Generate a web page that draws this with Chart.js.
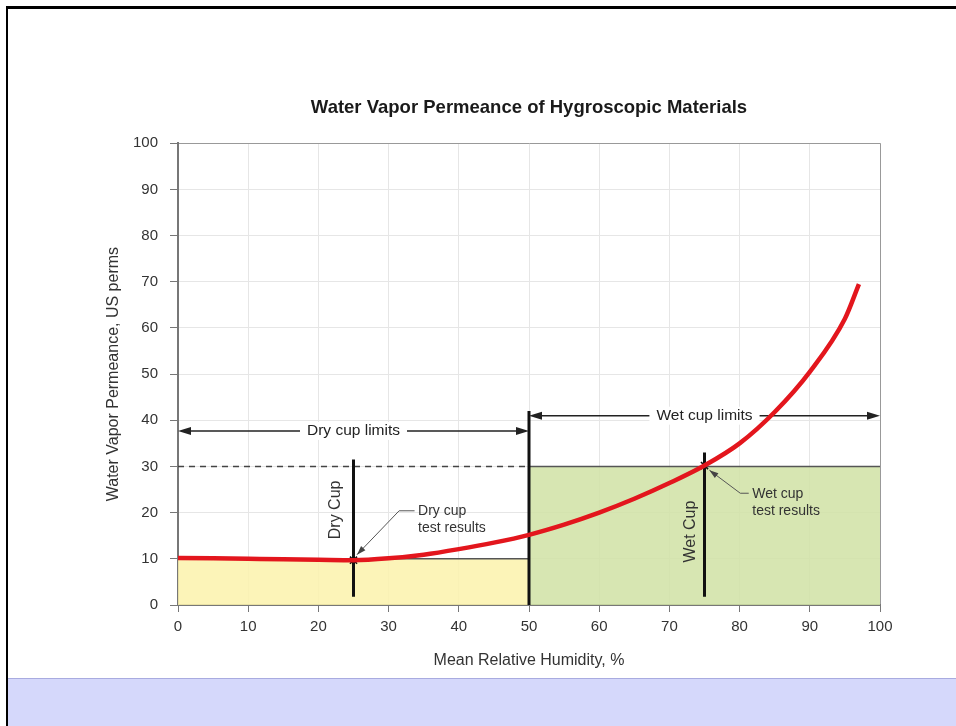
<!DOCTYPE html>
<html>
<head>
<meta charset="utf-8">
<script src="https://cdn.jsdelivr.net/npm/chart.js@4.4.1/dist/chart.umd.min.js"></script>
<style>
    html, body { margin: 0; padding: 0; background: #fff; }
    #page { position: relative; width: 956px; height: 726px; overflow: hidden; }
    #frame { position: absolute; left: 6px; top: 6px; right: -4px; bottom: -4px; border-top: 3px solid #000; border-left: 2px solid #000; }
    #band { position: absolute; left: 8px; right: 0; top: 678px; height: 48px; background: #d5d8fb; border-top: 1px solid #a9abe0; }
    #wrap { position: absolute; left: 0; top: 0; }
</style>
</head>
<body>
<div id="page">
    <div id="frame"></div>
    <div id="band"></div>
    <div id="wrap"><canvas id="permChart" width="956" height="726"></canvas></div>
</div>
<script>
// curve
const humidity = [0, 5, 10, 15, 20, 25, 30, 35, 40, 45, 50, 55, 60, 65, 70, 75, 80, 85, 90, 95, 97];
const permeance = [10.2, 10.1, 10.0, 9.9, 9.8, 9.7, 10.1, 10.9, 12.1, 13.5, 15.2, 17.4, 20.0, 23.0, 26.4, 30.2, 35.0, 41.8, 50.5, 62.0, 69.5];

// shaded test ranges: [start, end] humidity and top permeance
const dryRange = [0, 50];
const dryLevel = 10;
const wetRange = [50, 100];
const wetLevel = 30;

// vertical markers: humidity, bottom, top
const dividerX = [50, 25, 75];
const dividerBottom = [0, 1.8, 1.8];
const dividerTop = [42, 31.5, 33];

// test result points
const resultX = [25, 75];
const resultY = [9.7, 30.2];

// limit arrows
const limitLabels = ['Dry cup limits', 'Wet cup limits'];
const limitRanges = [[0, 50], [50, 100]];
const limitLevels = [37.7, 41];
const limitCenters = [25, 75];

// rotated cup labels
const cupLabels = ['Dry Cup', 'Wet Cup'];
const cupLabelX = [22.5, 73];
const cupLabelY = [20.6, 15.9];

// leader notes
const noteLines = [['Dry cup', 'test results'], ['Wet cup', 'test results']];
const noteTextAt = [[34.2, 20.4], [81.8, 24.0]];
const notePaths = [
    [[33.7, 20.4], [31.5, 20.4], [25.5, 10.9]],
    [[81.3, 24.2], [80.1, 24.2], [75.7, 29.2]]
];

const xTicks = [0, 10, 20, 30, 40, 50, 60, 70, 80, 90, 100];
const yTicks = [0, 10, 20, 30, 40, 50, 60, 70, 80, 90, 100];

Chart.defaults.font.family = '"Liberation Sans", Arial, Helvetica, sans-serif';
Chart.defaults.color = '#333';

function pts(xs, ys) {
    return xs.map((v, i) => ({ x: v, y: ys[i] }));
}

function arrowHead(ctx, tx, ty, angle, len, half) {
    ctx.save();
    ctx.translate(tx, ty);
    ctx.rotate(angle);
    ctx.beginPath();
    ctx.moveTo(0, 0);
    ctx.lineTo(-len, -half);
    ctx.lineTo(-len, half);
    ctx.closePath();
    ctx.fill();
    ctx.restore();
}

const annotate = {
    id: 'annotate',
    beforeDatasetsDraw(chart) {
        const { ctx, scales: { x, y } } = chart;
        ctx.save();
        ctx.strokeStyle = '#222';
        ctx.fillStyle = '#222';
        ctx.lineWidth = 1.5;
        ctx.font = '15.5px "Liberation Sans", Arial, sans-serif';
        limitLabels.forEach((label, i) => {
            const x0 = x.getPixelForValue(limitRanges[i][0]);
            const x1 = x.getPixelForValue(limitRanges[i][1]);
            const py = y.getPixelForValue(limitLevels[i]);
            ctx.beginPath();
            ctx.moveTo(x0 + 4, py);
            ctx.lineTo(x1 - 4, py);
            ctx.stroke();
            arrowHead(ctx, x0, py, Math.PI, 13, 4);
            arrowHead(ctx, x1, py, 0, 13, 4);
            const cx = x.getPixelForValue(limitCenters[i]);
            const w = ctx.measureText(label).width;
            ctx.fillStyle = '#fff';
            ctx.fillRect(cx - w / 2 - 7, py - 9, w + 14, 18);
            ctx.fillStyle = '#222';
            ctx.textAlign = 'center';
            ctx.textBaseline = 'middle';
            ctx.fillText(label, cx, py);
        });
        ctx.restore();
    },
    afterDatasetsDraw(chart) {
        const { ctx, scales: { x, y } } = chart;
        ctx.save();
        // leader lines
        ctx.strokeStyle = '#555';
        ctx.fillStyle = '#444';
        ctx.lineWidth = 1;
        notePaths.forEach(path => {
            const p = path.map(q => [x.getPixelForValue(q[0]), y.getPixelForValue(q[1])]);
            ctx.beginPath();
            ctx.moveTo(p[0][0], p[0][1]);
            for (let i = 1; i < p.length; i++) ctx.lineTo(p[i][0], p[i][1]);
            ctx.stroke();
            const a = p[p.length - 2], b = p[p.length - 1];
            arrowHead(ctx, b[0], b[1], Math.atan2(b[1] - a[1], b[0] - a[0]), 9, 3);
        });
        ctx.fillStyle = '#333';
        ctx.font = '14px "Liberation Sans", Arial, sans-serif';
        ctx.textAlign = 'left';
        ctx.textBaseline = 'middle';
        noteLines.forEach((lines, i) => {
            const tx = x.getPixelForValue(noteTextAt[i][0]);
            const ty = y.getPixelForValue(noteTextAt[i][1]);
            lines.forEach((line, j) => ctx.fillText(line, tx, ty + j * 17));
        });
        // rotated cup labels
        ctx.font = '16px "Liberation Sans", Arial, sans-serif';
        ctx.textAlign = 'center';
        cupLabels.forEach((label, i) => {
            ctx.save();
            ctx.translate(x.getPixelForValue(cupLabelX[i]), y.getPixelForValue(cupLabelY[i]));
            ctx.rotate(-Math.PI / 2);
            ctx.fillText(label, 0, 0);
            ctx.restore();
        });
        ctx.restore();
    }
};

const datasets = [
    {
        label: 'Permeance',
        data: pts(humidity, permeance),
        borderColor: '#e3161d',
        borderWidth: 4.5,
        pointRadius: 0,
        cubicInterpolationMode: 'monotone',
        fill: false,
        order: 0
    },
    {
        label: 'Results',
        data: pts(resultX, resultY),
        showLine: false,
        pointStyle: 'crossRot',
        pointRadius: 5,
        borderColor: '#111',
        pointBorderWidth: 1.6,
        order: 1
    }
];

dividerX.forEach((v, i) => {
    datasets.push({
        label: 'Divider ' + i,
        data: [{ x: v, y: dividerBottom[i] }, { x: v, y: dividerTop[i] }],
        borderColor: '#111',
        borderWidth: 3,
        pointRadius: 0,
        fill: false,
        order: 2
    });
});

datasets.push({
    label: 'Dashed',
    data: [{ x: dryRange[0], y: wetLevel }, { x: dryRange[1], y: wetLevel }],
    borderColor: '#444',
    borderWidth: 1.5,
    borderDash: [6, 5],
    pointRadius: 0,
    fill: false,
    order: 3
});

datasets.push({
    label: 'Dry range',
    data: [{ x: dryRange[0], y: dryLevel }, { x: dryRange[1], y: dryLevel }],
    borderColor: '#555',
    borderWidth: 1.5,
    backgroundColor: 'rgba(251, 242, 172, 0.85)',
    pointRadius: 0,
    fill: 'origin',
    order: 4
});

datasets.push({
    label: 'Wet range',
    data: [{ x: wetRange[0], y: wetLevel }, { x: wetRange[1], y: wetLevel }],
    borderColor: '#555',
    borderWidth: 1.5,
    backgroundColor: 'rgba(208, 226, 164, 0.85)',
    pointRadius: 0,
    fill: 'origin',
    order: 4
});

const ctx = document.getElementById('permChart').getContext('2d');
new Chart(ctx, {
    type: 'line',
    data: { datasets: datasets },
    options: {
        responsive: false,
        animation: false,
        layout: { padding: { left: 0, right: 76, top: 0, bottom: 0 } },
        plugins: {
            legend: { display: false },
            tooltip: { enabled: false },
            title: {
                display: true,
                fullSize: false,
                text: 'Water Vapor Permeance of Hygroscopic Materials',
                color: '#1a1a1a',
                font: { size: 18.5, weight: 'bold' },
                padding: { top: 97, bottom: 24 }
            }
        },
        scales: {
            x: {
                type: 'linear',
                min: 0,
                max: 100,
                afterBuildTicks: s => { s.ticks = xTicks.map(v => ({ value: v })); },
                afterFit: s => { s.height = 121; },
                ticks: { font: { size: 15 }, color: '#333', padding: 6 },
                grid: {
                    color: c => (c.tick && c.tick.value === 100 ? '#999' : '#e6e6e6'),
                    tickColor: '#777',
                    tickLength: 7
                },
                border: { color: '#777', width: 2 },
                title: {
                    display: true,
                    text: 'Mean Relative Humidity, %',
                    font: { size: 16 },
                    color: '#333',
                    padding: { top: 0, bottom: 56 }
                }
            },
            y: {
                type: 'linear',
                min: 0,
                max: 100,
                afterBuildTicks: s => { s.ticks = yTicks.map(v => ({ value: v })); },
                afterFit: s => { s.width = 178; },
                ticks: { font: { size: 15 }, color: '#333', padding: 12 },
                grid: {
                    color: c => (c.tick && c.tick.value === 100 ? '#999' : '#e6e6e6'),
                    tickColor: '#777',
                    tickLength: 8
                },
                border: { color: '#777', width: 2 },
                title: {
                    display: true,
                    text: 'Water Vapor Permeance, US perms',
                    font: { size: 16 },
                    color: '#333',
                    padding: { top: 104, bottom: 0 }
                }
            }
        }
    },
    plugins: [annotate]
});
</script>
</body>
</html>
